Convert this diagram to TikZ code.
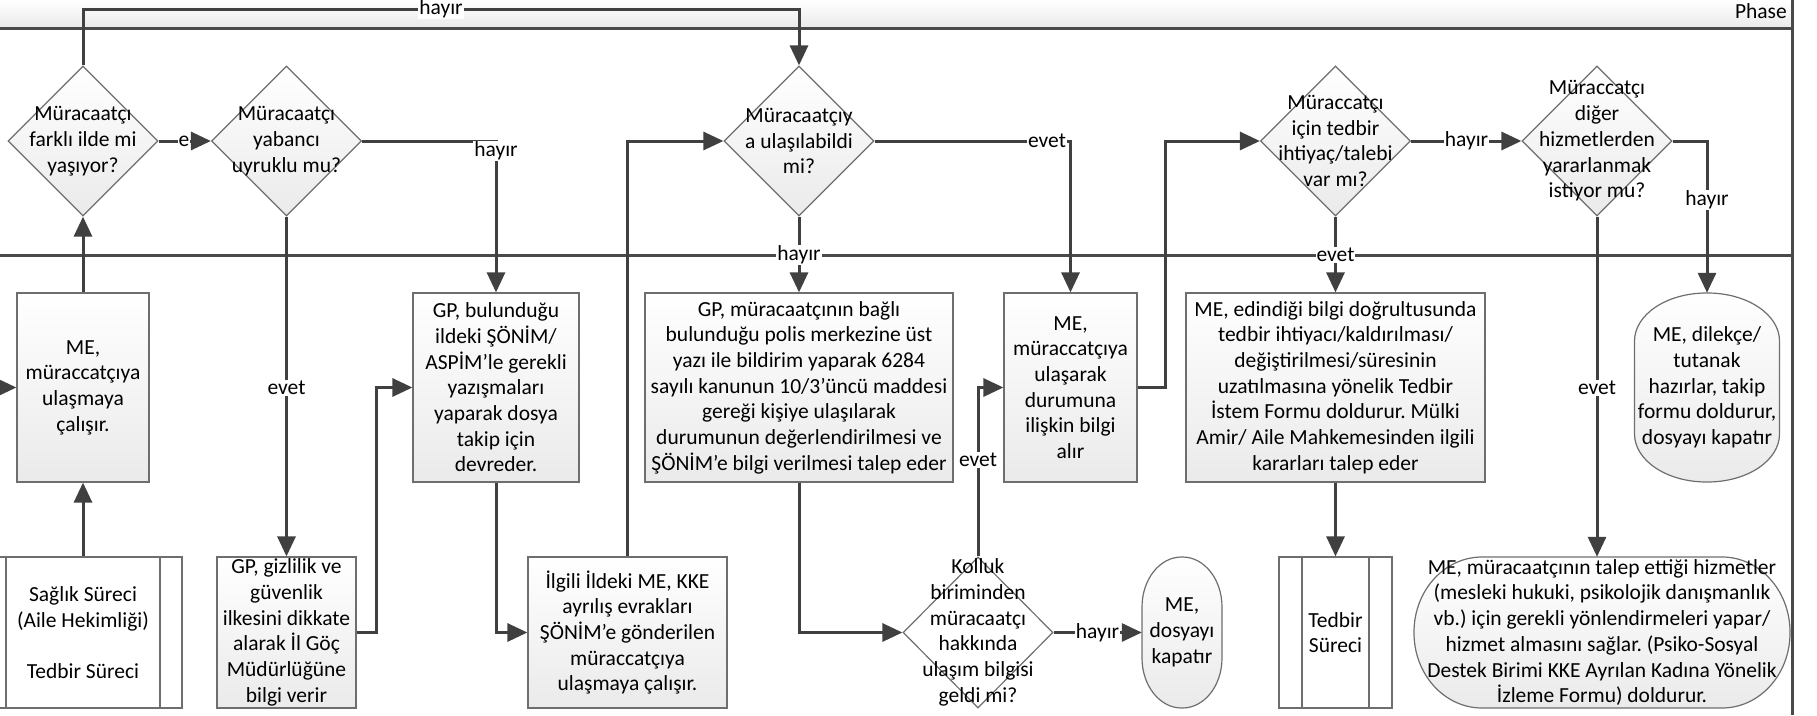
\documentclass[tikz,border=0pt]{standalone}
\usepackage{fontspec}
\setmainfont{Carlito}
\frenchspacing
\usetikzlibrary{shapes.geometric,arrows.meta,calc}
\definecolor{connc}{HTML}{404040}
\definecolor{bordc}{HTML}{6E6E6E}
\definecolor{lanec}{HTML}{4A4A4A}
\definecolor{shadec}{HTML}{EAEAEA}
\tikzset{
  every node/.style={font=\fontsize{21.5}{25.7}\selectfont},
  proc/.style={draw=bordc, line width=1.2pt, top color=white, bottom color=shadec, align=center, inner sep=0pt},
  dia/.style={diamond, draw=bordc, line width=1.2pt, top color=white, bottom color=shadec, minimum width=150pt, minimum height=150pt, inner sep=0pt},
  diaw/.style={diamond, draw=bordc, line width=1.2pt, fill=white, minimum width=150pt, minimum height=151pt, inner sep=0pt},
  dtext/.style={align=center, inner sep=0pt},
  ellterm/.style n args={2}{draw=none, inner sep=0pt, align=center, path picture={
    \path[draw=bordc, line width=1.2pt, top color=white, bottom color=shadec]
      let \p1=(path picture bounding box.north west), \p2=(path picture bounding box.south east) in
      (\x1+#1+1pt,\y1-1pt) -- (\x2-#1-1pt,\y1-1pt)
      arc[start angle=90,end angle=0,x radius=#1,y radius=#2]
      -- (\x2-1pt,\y2+1pt+#2)
      arc[start angle=0,end angle=-90,x radius=#1,y radius=#2]
      -- (\x1+#1+1pt,\y2+1pt)
      arc[start angle=270,end angle=180,x radius=#1,y radius=#2]
      -- (\x1+1pt,\y1-1pt-#2)
      arc[start angle=180,end angle=90,x radius=#1,y radius=#2] -- cycle;}},
  subp/.style={draw=bordc, line width=1.2pt, fill=white, align=center, inner sep=0pt,
    path picture={\draw[bordc, line width=1.2pt]
      ([xshift=#1]path picture bounding box.north west) -- ([xshift=#1]path picture bounding box.south west)
      ([xshift=-#1]path picture bounding box.north east) -- ([xshift=-#1]path picture bounding box.south east);}},
  conn/.style={draw=connc, line width=3pt},
  arr/.style={conn, -{Triangle[length=20pt,width=18pt]}},
  lbl/.style={fill=white, inner sep=1pt},
  lane/.style={draw=lanec, line width=3pt}
}
\begin{document}
\begin{tikzpicture}[x=1pt,y=-1pt]
\useasboundingbox (0,0) rectangle (1817,715);
% header
\fill[top color=white, bottom color=shadec] (0,0) rectangle (1792,28);
\draw[lane] (0,28) -- (1792,28);
\draw[lane] (0,255) -- (1792,255);
\draw[lane] (1792,0) -- (1792,715);
\node[anchor=east, inner sep=0pt] (phase) at (1787,11) {Phase};

% decisions row 1
\node[dia] (d1) at (83,141) {};
\node[dtext] at (d1) {Müracaatçı\\farklı ilde mi\\yaşıyor?};
\node[dia] (d2) at (286.5,141) {};
\node[dtext] at (d2) {Müracaatçı\\yabancı\\uyruklu mu?};
\node[dia] (d3) at (799,141) {};
\node[dtext] at (d3) {Müracaatçıy\\a ulaşılabildi\\mi?};
\node[dia] (d4) at (1335.5,141) {};
\node[dtext] at (d4) {Müraccatçı\\için tedbir\\ihtiyaç/talebi\\var mı?};
\node[dia] (d5) at (1597,141) {};
\node[dtext] at (d5) {Müraccatçı\\diğer\\hizmetlerden\\yararlanmak\\istiyor mu?};

% process row
\node[proc, minimum width=132pt, minimum height=189pt] (me1) at (83,387.5) {ME,\\müraccatçıya\\ulaşmaya\\çalışır.};
\node[proc, minimum width=166pt, minimum height=189pt] (gp1) at (496,387.5) {GP, bulunduğu\\ildeki ŞÖNİM/\\ASPİM’le gerekli\\yazışmaları\\yaparak dosya\\takip için\\devreder.};
\node[proc, minimum width=308pt, minimum height=189pt] (gp2) at (799,387.5) {GP, müracaatçının bağlı\\bulunduğu polis merkezine üst\\yazı ile bildirim yaparak 6284\\sayılı kanunun 10/3’üncü maddesi\\gereği kişiye ulaşılarak\\durumunun değerlendirilmesi ve\\ŞÖNİM’e bilgi verilmesi talep eder};
\node[proc, minimum width=133pt, minimum height=189pt] (me2) at (1070.5,387.5) {ME,\\müraccatçıya\\ulaşarak\\durumuna\\ilişkin bilgi\\alır};
\node[proc, minimum width=299pt, minimum height=189pt] (me3) at (1335.5,387.5) {ME, edindiği bilgi doğrultusunda\\tedbir ihtiyacı/kaldırılması/\\değiştirilmesi/süresinin\\uzatılmasına yönelik Tedbir\\İstem Formu doldurur. Mülki\\Amir/ Aile Mahkemesinden ilgili\\kararları talep eder};
\node[ellterm={72pt}{48pt}, minimum width=147pt, minimum height=191pt] (rt1) at (1707,387.5) {ME, dilekçe/\\tutanak\\hazırlar, takip\\formu doldurur,\\dosyayı kapatır};

% bottom row
\node[subp=22pt, minimum width=198pt, minimum height=151pt] (sag) at (83,632.5) {Sağlık Süreci\\(Aile Hekimliği)\\[25.7pt]Tedbir Süreci};
\node[proc, minimum width=139pt, minimum height=151pt] (giz) at (286.5,632.5) {GP, gizlilik ve\\güvenlik\\ilkesini dikkate\\alarak İl Göç\\Müdürlüğüne\\bilgi verir};
\node[proc, minimum width=199pt, minimum height=151pt] (ilg) at (627.5,632.5) {İlgili İldeki ME, KKE\\ayrılış evrakları\\ŞÖNİM’e gönderilen\\müraccatçıya\\ulaşmaya çalışır.};
\node[diaw] (kol) at (978,632.5) {};
\node[dtext] at (kol) {Kolluk\\biriminden\\müracaatçı\\hakkında\\ulaşım bilgisi\\geldi mi?};
\node[ellterm={39.5pt}{50pt}, minimum width=82pt, minimum height=153pt] (t1) at (1182,632.5) {ME,\\dosyayı\\kapatır};
\node[subp=23pt, minimum width=113pt, minimum height=151pt] (ted) at (1335.5,632.5) {Tedbir\\Süreci};
\node[ellterm={68pt}{75pt}, minimum width=378pt, minimum height=153pt] (big) at (1602,632.5) {ME, müracaatçının talep ettiği hizmetler\\(mesleki hukuki, psikolojik danışmanlık\\vb.) için gerekli yönlendirmeleri yapar/\\hizmet almasını sağlar. (Psiko-Sosyal\\Destek Birimi KKE Ayrılan Kadına Yönelik\\İzleme Formu) doldurur.};

% connectors
\coordinate (lin) at (0,387.5);
\draw[arr] (lin) -- (me1.west);
\draw[arr] (sag.north) -- (me1.south);
\draw[arr] (me1.north) -- (d1.south);
\draw[arr] (d1.north) |- (441,9) -| (d3.north);
\draw[arr] (d1.east) -- (d2.west);
\draw[arr] (d2.east) -| (gp1.north);
\draw[arr] (d2.south) -- (giz.north);
\draw[arr] (giz.east) -- (376,632.5) |- (gp1.west);
\draw[arr] (gp1.south) |- (ilg.west);
\draw[arr] (ilg.north) |- (d3.west);
\draw[arr] (d3.south) -- (gp2.north);
\draw[arr] (d3.east) -| (me2.north);
\draw[arr] (gp2.south) |- (kol.west);
\draw[arr] (kol.north) |- (me2.west);
\draw[arr] (kol.east) -- ([xshift=1pt]t1.west);
\draw[arr] (me2.east) -- (1165,387.5) |- (d4.west);
\draw[arr] (d4.east) -- (d5.west);
\draw[arr] (d4.south) -- (me3.north);
\draw[arr] (me3.south) -- (ted.north);
\draw[arr] (d5.east) -| ([yshift=-1pt]rt1.north);
\draw[arr] (d5.south) -- ([yshift=-1pt]d5.south |- big.north);

% labels
\node[lbl] at (441,9) {hayır};
\node[lbl] at (184,141) {e};
\node[lbl] at (496,151) {hayır};
\node[lbl] at (286.5,388) {evet};
\node[lbl] at (799,255) {hayır};
\node[lbl] at (1047,141) {evet};
\node[lbl] at (978,460) {evet};
\node[lbl] at (1097.5,632.5) {hayır};
\node[lbl] at (1466.5,141) {hayır};
\node[lbl] at (1335.5,255) {evet};
\node[lbl] at (1707,200) {hayır};
\node[lbl] at (1597,388) {evet};
\end{tikzpicture}
\end{document}
